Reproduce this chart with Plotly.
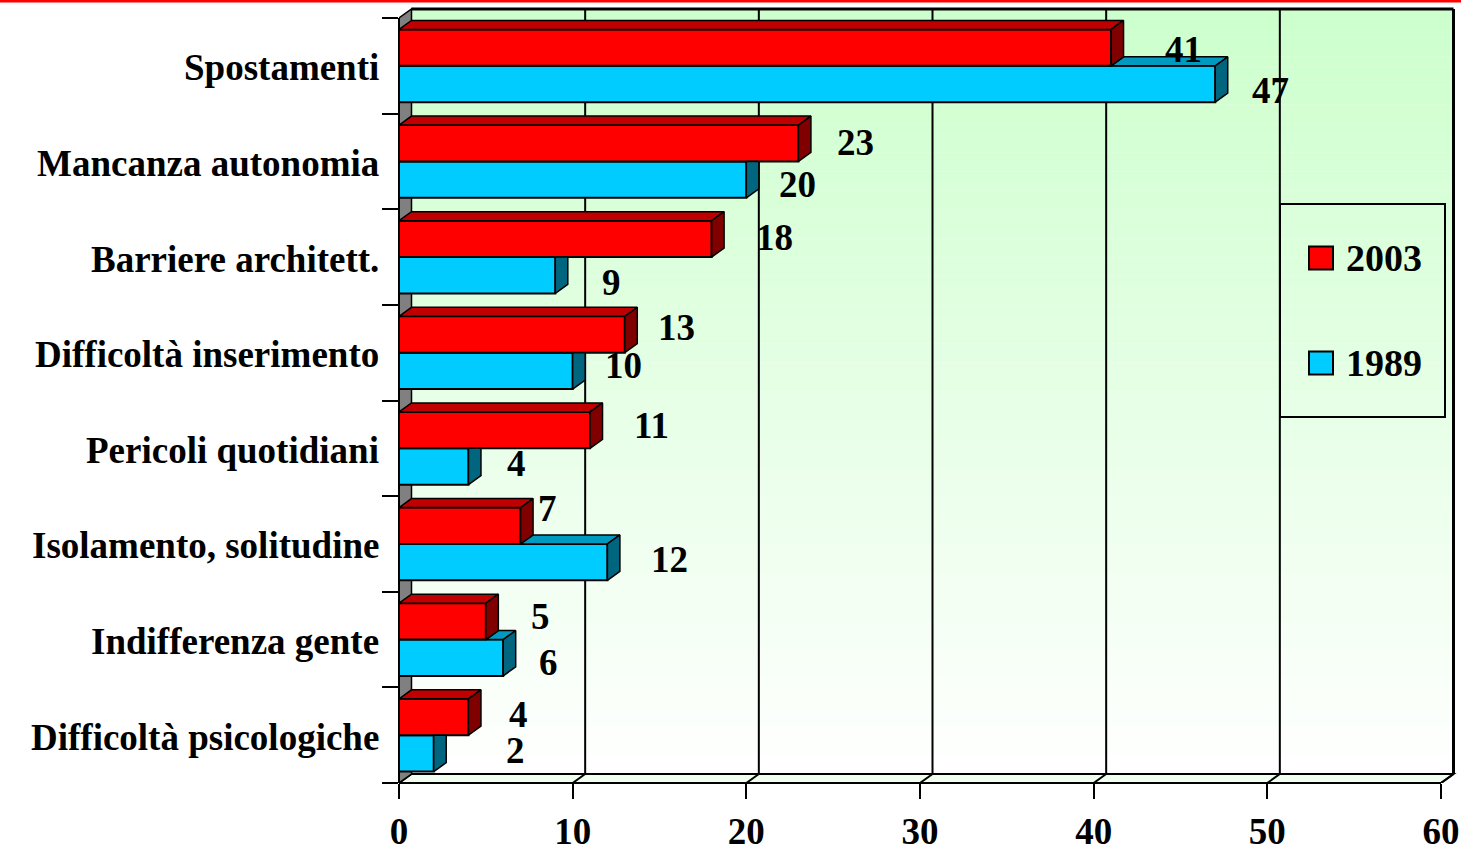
import plotly.graph_objects as go

# ---------------- data ----------------
categories = ["Spostamenti", "Mancanza autonomia", "Barriere architett.",
              "Difficoltà inserimento", "Pericoli quotidiani",
              "Isolamento, solitudine", "Indifferenza gente",
              "Difficoltà psicologiche"]
values_2003 = [41, 23, 18, 13, 11, 7, 5, 4]
values_1989 = [47, 20, 9, 10, 4, 12, 6, 2]
series_names = ["2003", "1989"]
x_ticks = [0, 10, 20, 30, 40, 50, 60]

# ---------------- style ----------------
FONT = "Liberation Serif"
RED, RED_TOP, RED_SIDE = "#FF0000", "#C00000", "#800000"
CYAN, CYAN_TOP, CYAN_SIDE = "#00CCFF", "#0099C0", "#006680"

# label nudges (pixels) for the value labels, relative to bar end / centre
lab_dx_2003 = [72, 57, 63, 52, 61, 27, 55, 50]
lab_dy_2003 = [2, -1, -1, -7, -5, -17, -5, -3]
lab_dx_1989 = [55, 51, 56, 51, 48, 62, 45, 82]
lab_dy_1989 = [7, 5, 7, -5, -3, -3, 5, -3]

W, H = 1461, 845
L, R, T, B = 399, 3, 4, 62
plot_w = W - L - R
plot_h = H - T - B
n = len(categories)
xmax_front = x_ticks[-1]
ppx = 1042 / xmax_front          # pixels per x unit
ppy = 765 / n                    # pixels per category
x_range = [0, plot_w / ppx]
y_range = [0, plot_h / ppy]
DX = 12.5 / ppx                  # depth offset in x units
DY = 9 / ppy                     # depth offset in y units
BAR_W = 0.38

centers = [n - i - 0.5 for i in range(n)]
y_red = [c + BAR_W / 2 for c in centers]
y_cyan = [c - BAR_W / 2 for c in centers]


def xp(px):
    return (px - L) / plot_w


def yp(py):
    return (H - B - py) / plot_h


fig = go.Figure()

# ---------------- back wall (gradient) ----------------
shapes = []
N_STRIPS = 80
top_rgb = (204, 255, 204)
bot_rgb = (255, 255, 255)
y0w, y1w = DY, n + DY
for k in range(N_STRIPS):
    t = (k + 0.5) / N_STRIPS
    col = tuple(round(bot_rgb[j] + (top_rgb[j] - bot_rgb[j]) * t) for j in range(3))
    ya = y0w + (y1w - y0w) * k / N_STRIPS
    yb = y0w + (y1w - y0w) * (k + 1) / N_STRIPS + 0.002
    shapes.append(dict(type="rect", xref="x", yref="y", x0=DX, x1=xmax_front + DX,
                       y0=ya, y1=yb, fillcolor="rgb(%d,%d,%d)" % col,
                       line=dict(width=0), layer="below"))

# floor
shapes.append(dict(type="path", xref="x", yref="y",
                   path="M 0,0 L %f,0 L %f,%f L %f,%f Z" % (xmax_front, xmax_front + DX, DY, DX, DY),
                   fillcolor="#F0FFF0", line=dict(color="black", width=2), layer="below"))
# left wall
shapes.append(dict(type="path", xref="x", yref="y",
                   path="M 0,0 L %f,%f L %f,%f L 0,%f Z" % (DX, DY, DX, n + DY, n),
                   fillcolor="#808080", line=dict(color="black", width=1.5), layer="below"))
# gridlines on the back wall + floor diagonals
for t in x_ticks[1:]:
    w = 3 if t == xmax_front else 2
    shapes.append(dict(type="line", xref="x", yref="y", x0=t + DX, x1=t + DX, y0=DY, y1=n + DY,
                       line=dict(color="black", width=w), layer="below"))
    shapes.append(dict(type="line", xref="x", yref="y", x0=t, x1=t + DX, y0=0, y1=DY,
                       line=dict(color="black", width=2), layer="below"))
# top border of the wall
shapes.append(dict(type="line", xref="x", yref="y", x0=DX, x1=xmax_front + DX, y0=n + DY, y1=n + DY,
                   line=dict(color="black", width=3), layer="below"))

# front axis lines
shapes.append(dict(type="line", xref="x", yref="paper", x0=0, x1=xmax_front, y0=0, y1=0,
                   line=dict(color="black", width=2), layer="above"))
shapes.append(dict(type="line", xref="paper", yref="y", x0=0, x1=0, y0=0, y1=n,
                   line=dict(color="black", width=2), layer="above"))

# red line across the top of the slide
shapes.append(dict(type="line", xref="paper", yref="paper", x0=xp(0), x1=xp(W), y0=yp(1), y1=yp(1),
                   line=dict(color="#FF0000", width=3), layer="above"))

# ---------------- legend (manual) ----------------
shapes.append(dict(type="rect", xref="paper", yref="paper", x0=xp(1280), x1=xp(1445),
                   y0=yp(417), y1=yp(204), line=dict(color="black", width=2),
                   fillcolor="rgba(0,0,0,0)", layer="above"))
legend_items = [(series_names[0], RED, 258), (series_names[1], CYAN, 363)]
annotations = []
for name, col, cy in legend_items:
    shapes.append(dict(type="rect", xref="paper", yref="paper", x0=xp(1309), x1=xp(1333),
                       y0=yp(cy + 11.5), y1=yp(cy - 11.5), fillcolor=col,
                       line=dict(color="black", width=2), layer="above"))
    annotations.append(dict(xref="paper", yref="paper", x=xp(1344), y=yp(cy), text=name,
                            showarrow=False, xanchor="left", yanchor="middle",
                            font=dict(family=FONT, size=38, color="black", weight="bold")))

# ---------------- bars: front faces ----------------
fig.add_trace(go.Bar(orientation="h", x=values_1989, y=y_cyan, width=BAR_W, name=series_names[1],
                     marker=dict(color=CYAN, line=dict(color="black", width=2)),
                     showlegend=False, hoverinfo="x"))
fig.add_trace(go.Bar(orientation="h", x=values_2003, y=y_red, width=BAR_W, name=series_names[0],
                     marker=dict(color=RED, line=dict(color="black", width=2)),
                     showlegend=False, hoverinfo="x"))

# ---------------- bars: 3D top and side faces ----------------
cyan_top_x, cyan_top_y, cyan_side_x, cyan_side_y = [], [], [], []
red_top_x, red_top_y, red_side_x, red_side_y = [], [], [], []
for vr, vc, yr, yc in zip(values_2003, values_1989, y_red, y_cyan):
    # cyan bar
    ct = yc + BAR_W / 2
    cb = yc - BAR_W / 2
    if vc > vr:
        cyan_top_x += [vr, vc, vc + DX, vr + DX, vr, None]
        cyan_top_y += [ct, ct, ct + DY, ct + DY, ct, None]
        cyan_side_x += [vc, vc, vc + DX, vc + DX, vc, None]
        cyan_side_y += [cb, ct, ct + DY, cb + DY, cb, None]
    else:
        cyan_side_x += [vc, vc, vc + DX, vc + DX, vc, None]
        cyan_side_y += [cb, ct, ct, cb + DY, cb, None]
    # red bar
    rt = yr + BAR_W / 2
    rb = yr - BAR_W / 2
    red_top_x += [0, vr, vr + DX, DX, 0, None]
    red_top_y += [rt, rt, rt + DY, rt + DY, rt, None]
    red_side_x += [vr, vr, vr + DX, vr + DX, vr, None]
    red_side_y += [rb, rt, rt + DY, rb + DY, rb, None]

for xs, ys, col in [(cyan_top_x, cyan_top_y, CYAN_TOP), (cyan_side_x, cyan_side_y, CYAN_SIDE),
                    (red_top_x, red_top_y, RED_TOP), (red_side_x, red_side_y, RED_SIDE)]:
    fig.add_trace(go.Scatter(x=xs, y=ys, mode="lines", fill="toself", fillcolor=col,
                             line=dict(color="black", width=1.5), showlegend=False,
                             hoverinfo="skip"))

# ---------------- value labels ----------------
lab_font = dict(family=FONT, size=37, color="black", weight="bold")
for v, yy, dxp, dyp in zip(values_2003, y_red, lab_dx_2003, lab_dy_2003):
    annotations.append(dict(x=v, y=yy, xref="x", yref="y", text=str(v), showarrow=False,
                            xanchor="center", yanchor="middle", xshift=dxp, yshift=-dyp,
                            font=lab_font))
for v, yy, dxp, dyp in zip(values_1989, y_cyan, lab_dx_1989, lab_dy_1989):
    annotations.append(dict(x=v, y=yy, xref="x", yref="y", text=str(v), showarrow=False,
                            xanchor="center", yanchor="middle", xshift=dxp, yshift=-dyp,
                            font=lab_font))

# ---------------- category labels ----------------
for cat, c in zip(categories, centers):
    annotations.append(dict(x=0, y=c, xref="paper", yref="y", text=cat, showarrow=False,
                            xanchor="right", yanchor="middle", xshift=-18, yshift=-2,
                            font=dict(family=FONT, size=37, color="black", weight="bold")))

fig.update_layout(
    width=W, height=H,
    margin=dict(l=L, r=R, t=T, b=B, pad=0),
    paper_bgcolor="white", plot_bgcolor="rgba(0,0,0,0)",
    barmode="overlay",
    shapes=shapes, annotations=annotations,
    showlegend=False,
    xaxis=dict(range=x_range, tickvals=x_ticks, ticks="outside", ticklen=15, tickwidth=2,
               tickcolor="black", showgrid=False, zeroline=False, showline=False,
               ticklabelstandoff=1, automargin=False,
               tickfont=dict(family=FONT, size=37, color="black", weight="bold"),
               fixedrange=True),
    yaxis=dict(range=y_range, tickvals=list(range(0, n + 1)), ticks="outside", ticklen=16,
               tickwidth=2, tickcolor="black", showticklabels=False, showgrid=False,
               zeroline=False, showline=False, fixedrange=True, automargin=False),
)

fig.write_html("out.html", config={"displayModeBar": False},
               post_script="document.body.style.margin='0';document.body.style.padding='0';")
